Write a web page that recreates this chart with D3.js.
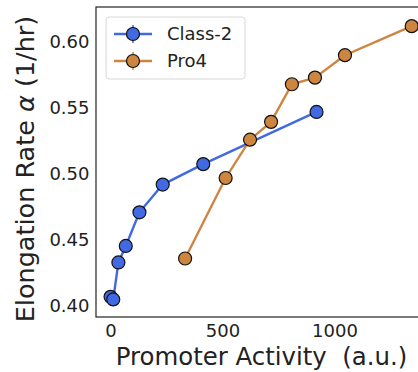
<!DOCTYPE html>
<html>
<head>
<meta charset="utf-8">
<script src="https://cdn.jsdelivr.net/npm/d3@7"></script>
<style>
  html, body { margin: 0; padding: 0; background: #fff; }
  svg { display: block; font-family: "DejaVu Sans", sans-serif; }
</style>
</head>
<body>
<div id="chart"></div>
<script>
// Promoter activity (a.u.) vs elongation rate (1/hr)
const class2Activity = [0, 12, 35, 68, 129, 233, 414, 920];
const class2Rate     = [0.407, 0.405, 0.433, 0.4455, 0.471, 0.492, 0.5075, 0.547];
const pro4Activity   = [333, 514, 623, 717, 810, 913, 1047, 1345];
const pro4Rate       = [0.436, 0.497, 0.526, 0.5395, 0.568, 0.573, 0.590, 0.612];
const xTicks = [0, 500, 1000];
const yTicks = [0.40, 0.45, 0.50, 0.55, 0.60];

const series = [
  { name: "Class-2", color: "#4169e1", x: class2Activity, y: class2Rate },
  { name: "Pro4",    color: "#cd853f", x: pro4Activity,   y: pro4Rate }
];

const W = 418, H = 372;
const plot = { left: 96, top: 7, right: 424, bottom: 317 };

const svg = d3.select("#chart").append("svg")
  .attr("width", W).attr("height", H);

const x = d3.scaleLinear().domain([-65, 1400]).range([plot.left, plot.right]);
const y = d3.scaleLinear().domain([0.3917, 0.6265]).range([plot.bottom, plot.top]);

// axes (labels only, no tick marks)
const xAxis = svg.append("g")
  .attr("transform", `translate(0,${plot.bottom})`)
  .call(d3.axisBottom(x).tickValues(xTicks).tickSize(0).tickPadding(7).tickFormat(d3.format("d")));
const yAxis = svg.append("g")
  .attr("transform", `translate(${plot.left},0)`)
  .call(d3.axisLeft(y).tickValues(yTicks).tickSize(0).tickPadding(6.5).tickFormat(d3.format(".2f")));
[xAxis, yAxis].forEach(g => {
  g.select(".domain").remove();
  g.selectAll("text").attr("font-size", 18).attr("fill", "#222")
    .attr("font-family", "DejaVu Sans, sans-serif");
});

// data series
const line = d3.line().x(d => x(d[0])).y(d => y(d[1]));
const dataG = svg.append("g");
series.forEach(s => {
  const pts = s.x.map((v, i) => [v, s.y[i]]);
  dataG.append("path").datum(pts)
    .attr("d", line).attr("fill", "none")
    .attr("stroke", s.color).attr("stroke-width", 2.4);
  dataG.selectAll(null).data(pts).enter().append("circle")
    .attr("cx", d => x(d[0])).attr("cy", d => y(d[1]))
    .attr("r", 6.5).attr("fill", s.color)
    .attr("stroke", "#111").attr("stroke-width", 1.2);
});

// frame
svg.append("rect")
  .attr("x", plot.left).attr("y", plot.top)
  .attr("width", plot.right - plot.left).attr("height", plot.bottom - plot.top)
  .attr("fill", "none").attr("stroke", "#222").attr("stroke-width", 1.2);

// legend
const lg = svg.append("g");
lg.append("rect").attr("x", 106).attr("y", 17).attr("width", 139).attr("height", 62)
  .attr("rx", 3).attr("fill", "#fff").attr("fill-opacity", 0.85)
  .attr("stroke", "#d8d8d8").attr("stroke-width", 1);
series.forEach((s, i) => {
  const cy = 34 + i * 27;
  lg.append("line").attr("x1", 114).attr("x2", 152).attr("y1", cy).attr("y2", cy)
    .attr("stroke", s.color).attr("stroke-width", 2.4);
  lg.append("line").attr("x1", 133).attr("x2", 133).attr("y1", cy - 9).attr("y2", cy + 9)
    .attr("stroke", s.color).attr("stroke-width", 1.5);
  lg.append("circle").attr("cx", 133).attr("cy", cy).attr("r", 6.5)
    .attr("fill", s.color).attr("stroke", "#111").attr("stroke-width", 1.2);
  lg.append("text").attr("x", 167).attr("y", cy).attr("dy", "0.36em")
    .attr("font-size", 18).attr("fill", "#222").text(s.name);
});

// axis titles
svg.append("text")
  .attr("x", 261.5).attr("y", 365)
  .attr("text-anchor", "middle").attr("font-size", 24.4).attr("fill", "#222")
  .attr("xml:space", "preserve").style("white-space", "pre")
  .text("Promoter Activity  (a.u.)");

const yl = svg.append("text")
  .attr("transform", `translate(34,169) rotate(-90)`)
  .attr("text-anchor", "middle").attr("font-size", 25.5).attr("fill", "#222");
yl.append("tspan").text("Elongation Rate ");
yl.append("tspan").attr("font-style", "italic").text("α");
yl.append("tspan").text(" (1/hr)");
</script>
</body>
</html>
